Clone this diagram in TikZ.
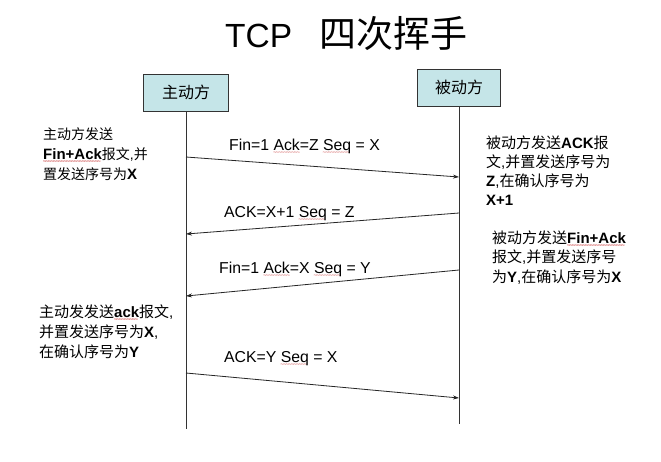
\documentclass[tikz,border=0pt]{standalone}
\usepackage{fontspec}
\setmainfont{Liberation Sans}
\newfontfamily\cjk{Noto Sans CJK SC}
\usetikzlibrary{arrows.meta}
\newcommand\zh[1]{{\cjk #1}}
\definecolor{boxfill}{RGB}{197,229,232}
\definecolor{squig}{RGB}{205,70,70}
\newsavebox\sqbox
\newcommand\sq[1]{\sbox\sqbox{#1}\rlap{\raisebox{-4.2pt}{\color{squig}\fontsize{6}{6}\selectfont\leaders\hbox{\kern-0.45pt\char`\~\kern-0.45pt}\hskip\wd\sqbox}}\usebox\sqbox}
\begin{document}
\begin{tikzpicture}[x=1pt,y=-1pt,
  actor/.style={draw=black!80, fill=boxfill, line width=0.8pt, minimum width=84pt, minimum height=37pt, inner sep=0pt, font=\cjk\fontsize{16}{18}\selectfont},
  life/.style={line width=0.9pt, draw=black!80},
  msg/.style={line width=0.8pt, draw=black!85, -{Stealth[length=6pt,width=4pt]}},
  lbl/.style={anchor=base west, inner sep=0pt, font=\fontsize{15.8}{18}\selectfont},
  note/.style={anchor=base west, inner sep=0pt, align=left, font=\fontsize{15}{19.5}\selectfont},
]
\useasboundingbox (0,0) rectangle (661,461);
\fill[white] (0,0) rectangle (661,461);

% title
\node[anchor=base west, inner sep=0pt] (title) at (225,47)
  {\fontsize{33.5}{36}\selectfont TCP\hspace{27pt}{\cjk\fontsize{37}{40}\selectfont 四次挥手}};

% actors
\node[actor, minimum width=85pt] (A) at (186,92.5) {主动方};
\node[actor, minimum width=83pt] (B) at (459,87.5) {被动方};

% lifeline ends
\coordinate (Aend) at (186,429);
\coordinate (Bend) at (459,424);
\draw[life] (A.south) -- (Aend);
\draw[life] (B.south) -- (Bend);

% message end points
\coordinate (m1s) at (186,157);
\coordinate (m1e) at (459,177);
\coordinate (m2s) at (459,213);
\coordinate (m2e) at (186,234);
\coordinate (m3s) at (459,270);
\coordinate (m3e) at (186,296);
\coordinate (m4s) at (186,373);
\coordinate (m4e) at (459,398);

\draw[msg] (m1s) -- (m1e);
\draw[msg] (m2s) -- (m2e);
\draw[msg] (m3s) -- (m3e);
\draw[msg] (m4s) -- (m4e);

% message labels
\node[lbl] (l1) at (229,150.5) {Fin=1 \sq{Ack}=Z \sq{Seq} = X};
\node[lbl] (l2) at (224,217.5) {ACK=X+1 \sq{Seq} = Z};
\node[lbl] (l3) at (219,273.5) {Fin=1 \sq{Ack}=X \sq{Seq} = Y};
\node[lbl] (l4) at (224,362) {ACK=Y \sq{Seq} = X};

% notes (anchored at the baseline of the last line)
\node[note, font=\fontsize{14}{20}\selectfont] (n1) at (43,179.5)
  {\zh{主动方发送}\\\textbf{\fontsize{15}{20}\selectfont \sq{Fin+Ack}}\zh{报文},\zh{并}\\\zh{置发送序号为}\textbf{\fontsize{15}{20}\selectfont X}};
\node[note, font=\fontsize{15}{18.7}\selectfont] (n2) at (486,205)
  {\zh{被动方发送}\textbf{ACK}\zh{报}\\\zh{文},\zh{并置发送序号为}\\\textbf{Z},\zh{在确认序号为}\\\textbf{X+1}};
\node[note] (n3) at (492,282.3)
  {\zh{被动方发送}\textbf{\sq{Fin+Ack}}\\\zh{报文},\zh{并置发送序号}\\\zh{为}\textbf{Y},\zh{在确认序号为}\textbf{X}};
\node[note, font=\fontsize{15}{20}\selectfont] (n4) at (39,357.7)
  {\zh{主动发发送}\textbf{\sq{ack}}\zh{报文},\\\zh{并置发送序号为}\textbf{X},\\\zh{在确认序号为}\textbf{Y}};
\end{tikzpicture}
\end{document}
